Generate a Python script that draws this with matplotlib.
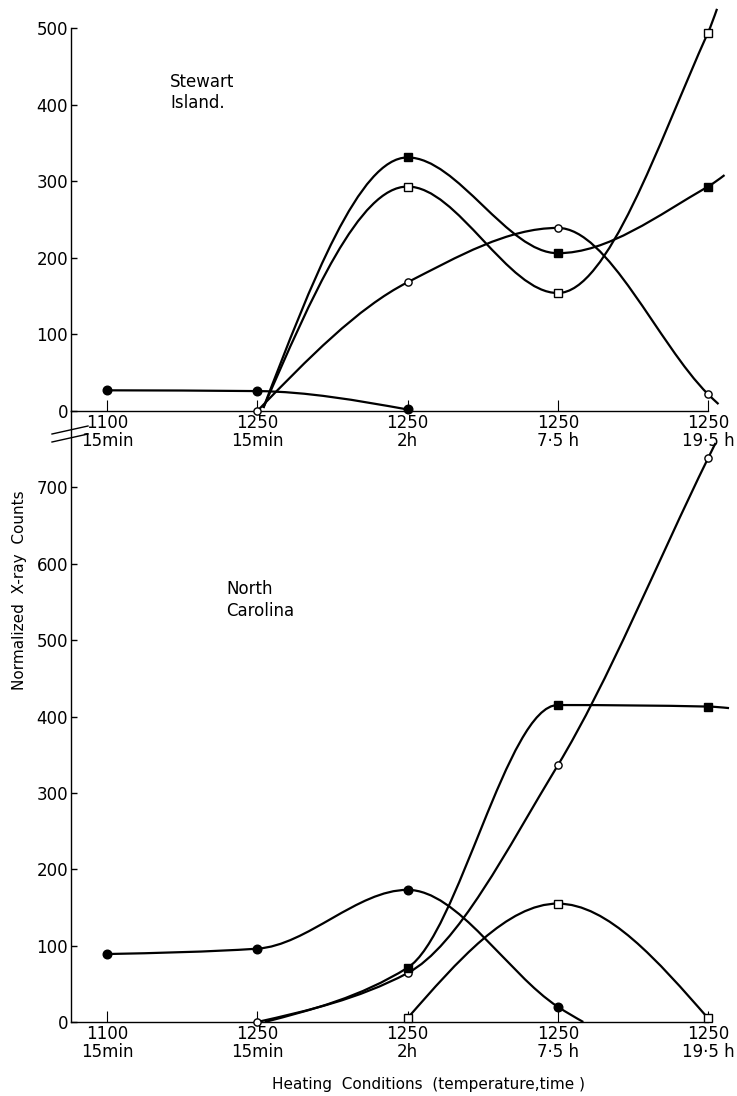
import numpy as np
import matplotlib.pyplot as plt
from matplotlib.path import Path
from matplotlib.patches import PathPatch
from matplotlib.lines import Line2D

plt.rcParams['font.family'] = ['DejaVu Sans']

# heating conditions (x categories)
conditions = ["1100\n15min", "1250\n15min", "1250\n2h", "1250\n7·5 h", "1250\n19·5 h"]

# Stewart Island
si_fc_x = [0, 1, 2]
si_fc_y = [27, 26, 2]
si_oc_x = [1, 2, 3, 4]
si_oc_y = [0, 168, 239, 22]
si_fs_x = [2, 3, 4]
si_fs_y = [331, 206, 293]
si_os_x = [2, 3, 4]
si_os_y = [293, 154, 494]
# where the hand-drawn curves start / run out without a marker
si_oc_tail = (4.07, 9)
si_fs_lead = (1.04, 4)
si_fs_tail = (4.11, 308)
si_os_lead = (1.04, 4)
si_os_tail = (4.06, 525)

# North Carolina
nc_fc_x = [0, 1, 2, 3]
nc_fc_y = [89, 96, 173, 20]
nc_oc_x = [1, 2, 3, 4]
nc_oc_y = [0, 64, 336, 738]
nc_fs_x = [2, 3, 4]
nc_fs_y = [71, 415, 413]
nc_os_x = [2, 3, 4]
nc_os_y = [5, 155, 5]
nc_fc_tail = (3.17, 0)
nc_oc_tail = (4.05, 758)
nc_fs_lead = (1.05, 0)
nc_fs_tail = (4.14, 411)


def slopes(x, y):
    # shape preserving (pchip style) tangents
    x = np.asarray(x, float)
    y = np.asarray(y, float)
    h = np.diff(x)
    d = np.diff(y) / h
    m = np.zeros(len(x))
    if len(x) == 2:
        m[:] = d[0]
        return m
    for i in range(1, len(x) - 1):
        if d[i - 1] * d[i] <= 0:
            m[i] = 0
        else:
            w1 = 2 * h[i] + h[i - 1]
            w2 = h[i] + 2 * h[i - 1]
            m[i] = (w1 + w2) / (w1 / d[i - 1] + w2 / d[i])
    for k, j, dj in ((0, 1, d[0]), (-1, -2, d[-1])):
        e = (3 * dj - m[j]) / 2
        if e * dj <= 0:
            e = 0
        elif abs(e) > 3 * abs(dj):
            e = 3 * dj
        m[k] = e
    return m


def smooth(ax, x, y, lw=1.6):
    x = np.asarray(x, float)
    y = np.asarray(y, float)
    m = slopes(x, y)
    verts = [(x[0], y[0])]
    codes = [Path.MOVETO]
    for i in range(len(x) - 1):
        h = x[i + 1] - x[i]
        verts += [(x[i] + h / 3, y[i] + m[i] * h / 3),
                  (x[i + 1] - h / 3, y[i + 1] - m[i + 1] * h / 3),
                  (x[i + 1], y[i + 1])]
        codes += [Path.CURVE4] * 3
    ax.add_patch(PathPatch(Path(verts, codes), fill=False, lw=lw,
                           ec='black', clip_on=False, zorder=2))


def knots(x, y, lead=None, tail=None):
    xs, ys = list(x), list(y)
    if lead:
        xs.insert(0, lead[0]); ys.insert(0, lead[1])
    if tail:
        xs.append(tail[0]); ys.append(tail[1])
    return xs, ys


def markers(ax, x, y, kind):
    st = {'fc': dict(marker='o', ms=6.2, mfc='black'),
          'oc': dict(marker='o', ms=5.2, mfc='white'),
          'fs': dict(marker='s', ms=5.6, mfc='black'),
          'os': dict(marker='s', ms=5.6, mfc='white')}[kind]
    ax.plot(x, y, ls='none', mec='black', mew=1.0, clip_on=False,
            zorder=3, **st)


def style(ax, top, ticks):
    ax.patch.set_visible(False)
    ax.set_xlim(-0.24, 4.0)
    ax.set_ylim(0, top)
    for s in ['top', 'right']:
        ax.spines[s].set_visible(False)
    for s in ['left', 'bottom']:
        ax.spines[s].set_linewidth(1.0)
    ax.set_xticks(range(len(conditions)))
    ax.set_xticklabels(conditions, fontsize=12, linespacing=1.0)
    ax.set_yticks(ticks)
    ax.tick_params(axis='y', direction='in', length=4, width=1.0, pad=2, labelsize=12)
    ax.tick_params(axis='x', direction='in', length=8, width=0.8, pad=2)


fig = plt.figure(figsize=(7.37, 10.96), dpi=100)
ax2 = fig.add_axes([71 / 737, 1 - 1022 / 1096, 637 / 737, 611 / 1096])
ax1 = fig.add_axes([71 / 737, 1 - 411 / 1096, 637 / 737, 383 / 1096])

style(ax1, 500, np.arange(0, 501, 100))
style(ax2, 800, np.arange(0, 701, 100))

# Stewart Island
smooth(ax1, si_fc_x, si_fc_y)
smooth(ax1, *knots(si_oc_x, si_oc_y, tail=si_oc_tail))
smooth(ax1, *knots(si_fs_x, si_fs_y, lead=si_fs_lead, tail=si_fs_tail))
smooth(ax1, *knots(si_os_x, si_os_y, lead=si_os_lead, tail=si_os_tail))
markers(ax1, si_fc_x, si_fc_y, 'fc')
markers(ax1, si_oc_x, si_oc_y, 'oc')
markers(ax1, si_fs_x, si_fs_y, 'fs')
markers(ax1, si_os_x, si_os_y, 'os')

# North Carolina
smooth(ax2, *knots(nc_fc_x, nc_fc_y, tail=nc_fc_tail))
smooth(ax2, *knots(nc_oc_x, nc_oc_y, tail=nc_oc_tail))
smooth(ax2, *knots(nc_fs_x, nc_fs_y, lead=nc_fs_lead, tail=nc_fs_tail))
smooth(ax2, nc_os_x, nc_os_y)
markers(ax2, nc_fc_x, nc_fc_y, 'fc')
markers(ax2, nc_oc_x, nc_oc_y, 'oc')
markers(ax2, nc_fs_x, nc_fs_y, 'fs')
markers(ax2, nc_os_x, nc_os_y, 'os')

fig.text(170 / 737, 1 - 73 / 1096, "Stewart\nIsland.", fontsize=12,
         va='top', ha='left', linespacing=1.25)
fig.text(226 / 737, 1 - 580 / 1096, "North\nCarolina", fontsize=12,
         va='top', ha='left', linespacing=1.25)

fig.text(20 / 737, 1 - 590 / 1096, "Normalized  X-ray  Counts", fontsize=11,
         rotation=90, ha='center', va='center')
fig.text(428 / 737, 1 - 1084 / 1096, "Heating  Conditions  (temperature,time )",
         fontsize=11, ha='center', va='center')

# axis break marks
for dy in (0, 8):
    fig.add_artist(Line2D([52 / 737, 88 / 737],
                          [1 - (434 + dy) / 1096, 1 - (426 + dy) / 1096],
                          color='black', lw=1.0))

fig.savefig('out.png', dpi=100)
